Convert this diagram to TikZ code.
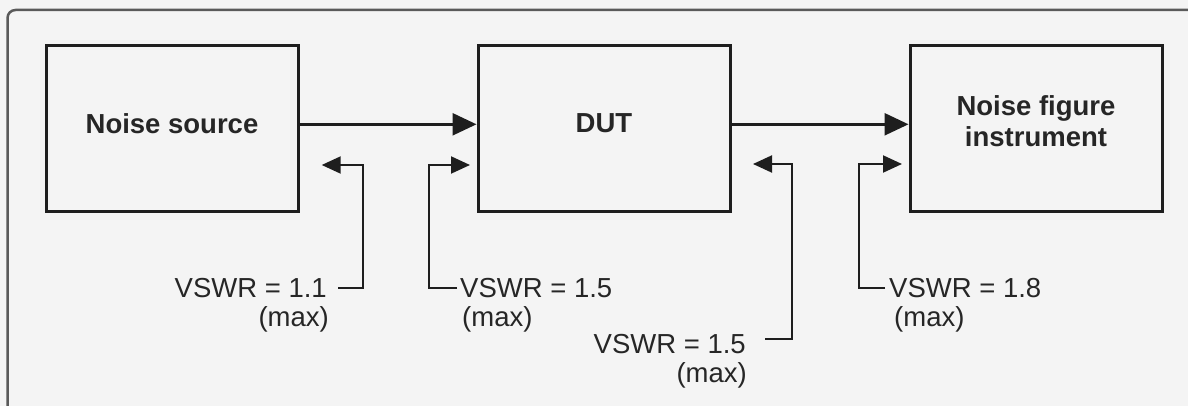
\documentclass[tikz,border=0pt]{standalone}
\usepackage{fontspec}
\setmainfont{Liberation Sans}
\usetikzlibrary{arrows.meta}
\definecolor{ink}{HTML}{1E1E1E}
\definecolor{txt}{HTML}{262626}
\definecolor{framec}{HTML}{5A5A5A}
\definecolor{paper}{HTML}{F4F4F4}
\begin{document}
\begin{tikzpicture}[x=1pt,y=-1pt,
  box/.style={draw=ink,line width=3pt,minimum width=252pt,minimum height=166pt,inner sep=0pt},
  boxtext/.style={inner sep=0pt,font=\fontsize{27.5}{31}\selectfont\bfseries,text=txt,align=center},
  lbl/.style={inner sep=0pt,font=\fontsize{27.5}{31}\selectfont,text=txt},
  flow/.style={draw=ink,line width=2.5pt,-{Triangle[length=24pt,width=22pt]}},
  brk/.style={draw=ink,line width=2pt,line join=miter,-{Triangle[length=19pt,width=17pt]}}]
\fill[paper] (0,0) rectangle (1188,406);
\useasboundingbox (0,0) rectangle (1188,406);
\draw[framec,line width=2.5pt,rounded corners=8pt] (7.5,406) -- (7.5,10) -- (1188,10);
% boxes
\node[box] (ns) at (172,128.6) {};
\node[box] (dut) at (604,128.6) {};
\node[box] (nfi) at (1036,128.6) {};
\node[boxtext] (nst) at (172,123.5) {Noise source};
\node[boxtext] (dutt) at (604,123.5) {DUT};
\node[boxtext] (nfit) at (1036,121.5) {Noise figure\\instrument};
% main flow
\draw[flow] ([yshift=4.3pt]ns.east) -- ([yshift=4.3pt]dut.west);
\draw[flow] ([yshift=4.3pt]dut.east) -- ([yshift=4.3pt]nfi.west);
% labels
\node[lbl,anchor=base east] (v1) at (327,297) {VSWR = 1.1};
\node[lbl,anchor=base east] (m1) at (329,326) {(max)};
\node[lbl,anchor=base west] (v2) at (460,297) {VSWR = 1.5};
\node[lbl,anchor=base west] (m2) at (462,326) {(max)};
\node[lbl,anchor=base east] (v3) at (746,353) {VSWR = 1.5};
\node[lbl,anchor=base east] (m3) at (747,382) {(max)};
\node[lbl,anchor=base west] (v4) at (889,297) {VSWR = 1.8};
\node[lbl,anchor=base west] (m4) at (894,326) {(max)};
% bracket arrows
\coordinate (c1) at (363.3,165);   \coordinate (t1) at (321.7,165);
\coordinate (c2) at (429,165);     \coordinate (t2) at (470,165);
\coordinate (c3) at (792.3,164);   \coordinate (t3) at (753,164);
\coordinate (c4) at (859,164);     \coordinate (t4) at (902,164);
\draw[brk] ([xshift=11pt]v1.east) -| (c1) -- (t1);
\draw[brk] ([xshift=-3pt]v2.west) -| (c2) -- (t2);
\draw[brk] ([xshift=19pt,yshift=5pt]v3.east) -| (c3) -- (t3);
\draw[brk] ([xshift=-4pt]v4.west) -| (c4) -- (t4);
\end{tikzpicture}
\end{document}
